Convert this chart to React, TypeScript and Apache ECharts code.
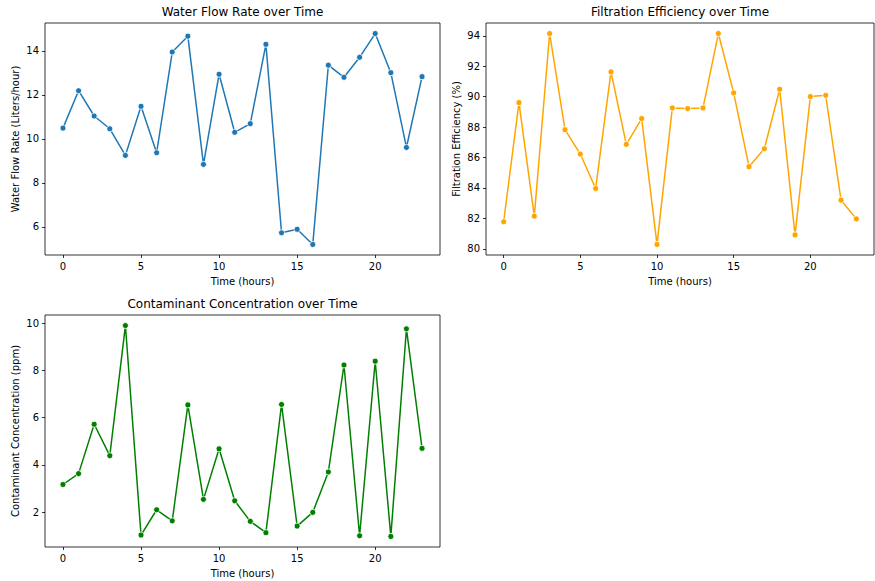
import React, { useEffect, useRef } from "react";
import * as echarts from "echarts";

const hours = Array.from({ length: 24 }, (_, i) => i);
const flowRate = [10.49, 12.19, 11.04, 10.46, 9.25, 11.48, 9.37, 13.95, 14.67, 8.84, 12.94, 10.30, 10.69, 14.30, 5.73, 5.89, 5.20, 13.35, 12.80, 13.71, 14.79, 13.01, 9.61, 12.83];
const efficiency = [81.78, 89.61, 82.15, 94.15, 87.83, 86.23, 83.97, 91.63, 86.87, 88.56, 80.29, 89.26, 89.22, 89.26, 94.15, 90.25, 85.40, 86.58, 90.49, 80.92, 90.01, 90.09, 83.20, 81.97];
const contaminant = [3.17, 3.63, 5.72, 4.39, 9.90, 1.03, 2.10, 1.63, 6.54, 2.54, 4.68, 2.48, 1.61, 1.13, 6.56, 1.41, 1.99, 3.70, 8.23, 1.00, 8.39, 0.97, 9.76, 4.70];

const xTicks = [0, 5, 10, 15, 20];
const flowTicks = [6, 8, 10, 12, 14];
const effTicks = [80, 82, 84, 86, 88, 90, 92, 94];
const contTicks = [2, 4, 6, 8, 10];

const titles = ["Water Flow Rate over Time", "Filtration Efficiency over Time", "Contaminant Concentration over Time"];
const yNames = ["Water Flow Rate (Liters/hour)", "Filtration Efficiency (%)", "Contaminant Concentration (ppm)"];
const xName = "Time (hours)";
const colors = ["#1f77b4", "#ffa500", "#008000"];

const FONT = "DejaVu Sans";

function padRange(vals: number[]) {
  const mn = Math.min(...vals);
  const mx = Math.max(...vals);
  const m = (mx - mn) * 0.05;
  return [mn - m, mx + m];
}

export default function App() {
  const ref = useRef<HTMLDivElement>(null);
  useEffect(() => {
    if (!ref.current) return;
    const chart = echarts.init(ref.current, null, { renderer: "svg" });
    const grids = [
      { left: 45, top: 23, width: 395, height: 232 },
      { left: 486, top: 23, width: 388, height: 232 },
      { left: 45, top: 315, width: 395, height: 232 },
    ];
    const datas = [flowRate, efficiency, contaminant];
    const yTicks = [flowTicks, effTicks, contTicks];
    const xr = padRange(hours);
    const textStyle = { fontFamily: FONT, fontSize: 10, color: "#000" };
    chart.setOption({
      animation: false,
      backgroundColor: "#fff",
      textStyle: { fontFamily: FONT },
      grid: grids.map((g) => ({ ...g, show: true, borderColor: "#000", borderWidth: 0.8, backgroundColor: "transparent" })),
      xAxis: grids.map((_, i) => ({
        type: "value",
        gridIndex: i,
        min: xr[0],
        max: xr[1],
        name: xName,
        nameLocation: "middle",
        nameGap: 21,
        nameTextStyle: textStyle,
        axisLine: { show: false, onZero: false },
        axisTick: { show: true, customValues: xTicks, length: 3, lineStyle: { color: "#000", width: 0.8 } },
        axisLabel: { customValues: xTicks, margin: 6, ...textStyle },
        splitLine: { show: false },
      })),
      yAxis: grids.map((_, i) => {
        const r = padRange(datas[i]);
        return {
          type: "value",
          gridIndex: i,
          min: r[0],
          max: r[1],
          name: yNames[i],
          nameLocation: "middle",
          nameGap: 25,
          nameTextStyle: textStyle,
          axisLine: { show: false, onZero: false },
          axisTick: { show: true, customValues: yTicks[i], length: 3, lineStyle: { color: "#000", width: 0.8 } },
          axisLabel: { customValues: yTicks[i], margin: 6, ...textStyle },
          splitLine: { show: false },
        };
      }),
      series: datas.map((d, i) => ({
        type: "line",
        xAxisIndex: i,
        yAxisIndex: i,
        data: hours.map((h, j) => [h, d[j]]),
        symbol: "circle",
        symbolSize: 6,
        showSymbol: true,
        lineStyle: { color: colors[i], width: 1.5 },
        itemStyle: { color: colors[i], borderColor: "#fff", borderWidth: 0.8 },
      })),
      graphic: grids.map((g, i) => ({
        type: "text",
        x: g.left + g.width / 2,
        y: g.top - 11,
        style: {
          text: titles[i],
          fontFamily: FONT,
          fontSize: 12,
          fill: "#000",
          textAlign: "center",
          textVerticalAlign: "middle",
        },
      })),
    });
    return () => chart.dispose();
  }, []);
  return <div ref={ref} style={{ position: "fixed", left: 0, top: 0, width: 875, height: 581 }} />;
}
